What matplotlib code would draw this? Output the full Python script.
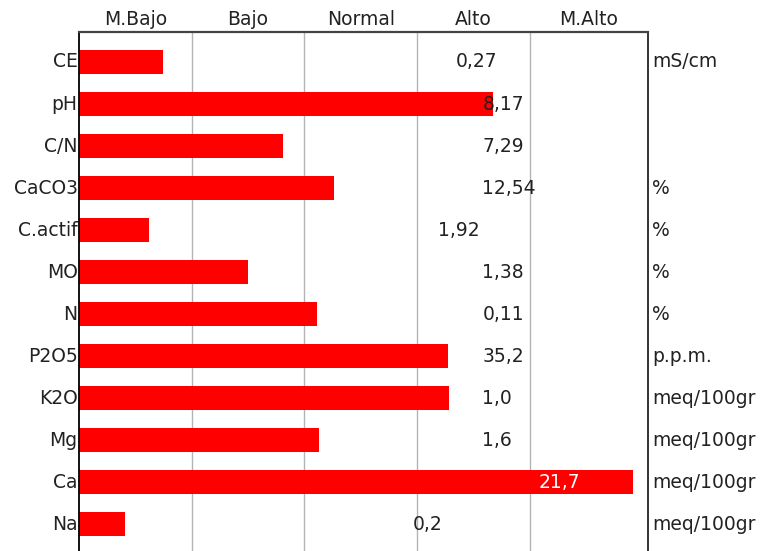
import matplotlib
matplotlib.use("Agg")
import matplotlib.pyplot as plt

# soil analysis, bar length measured on the level scale (1 unit = one class)
params = ["CE", "pH", "C/N", "CaCO3", "C.actif", "MO", "N", "P2O5", "K2O", "Mg", "Ca", "Na"]
levels = [0.745, 3.673, 1.810, 2.263, 0.621, 1.500, 2.112, 3.274, 3.283, 2.130, 4.916, 0.408]
values = ["0,27", "8,17", "7,29", "12,54", "1,92", "1,38", "0,11", "35,2", "1,0", "1,6", "21,7", "0,2"]
units = ["mS/cm", "", "", "%", "%", "%", "%", "p.p.m.", "meq/100gr", "meq/100gr", "meq/100gr", "meq/100gr"]
classes = ["M.Bajo", "Bajo", "Normal", "Alto", "M.Alto"]

# where the value text starts (same scale as levels)
label_pos = [3.34, 3.58, 3.58, 3.58, 3.19, 3.58, 3.58, 3.58, 3.58, 3.58, 4.08, 2.96]
label_col = ["#222222"] * 10 + ["white", "#222222"]

xmax = 5.05
fs = 13.5
txt = "#222222"

fig = plt.figure(figsize=(7.8, 5.51), dpi=100)
ax = fig.add_axes([79 / 780, 0, (648 - 79) / 780, 1 - 32 / 551])

ypos = list(range(len(params)))
ax.barh(ypos, levels, height=0.58, color="#ff0000", zorder=2)

for x in range(1, 5):
    ax.axvline(x, color="#b4b4b4", lw=1, zorder=1)

ax.set_xlim(0, xmax)
ax.set_ylim(11.64, -0.714)

for i in ypos:
    ax.text(label_pos[i], i, values[i], ha="left", va="center", fontsize=fs,
            color=label_col[i], zorder=3)
    ax.annotate(params[i], xy=(0, i), xycoords=("axes fraction", "data"),
                xytext=(-1, 0), textcoords="offset points", ha="right",
                va="center", fontsize=fs, color=txt)
    if units[i]:
        ax.annotate(units[i], xy=(1, i), xycoords=("axes fraction", "data"),
                    xytext=(3, 0), textcoords="offset points", ha="left",
                    va="center", fontsize=fs, color=txt)

bounds = [0, 1, 2, 3, 4, xmax]
for k, c in enumerate(classes):
    ax.text((bounds[k] + bounds[k + 1]) / 2, -1.0, c, ha="center", va="center",
            fontsize=fs, color=txt, clip_on=False)

ax.set_xticks([])
ax.set_yticks([])
ax.spines["bottom"].set_visible(False)
ax.spines["top"].set_color("#444444")
ax.spines["top"].set_linewidth(1.6)
ax.spines["left"].set_color("black")
ax.spines["left"].set_linewidth(1.3)
ax.spines["right"].set_color("#222222")
ax.spines["right"].set_linewidth(1.3)

fig.savefig("out.png", dpi=100)
